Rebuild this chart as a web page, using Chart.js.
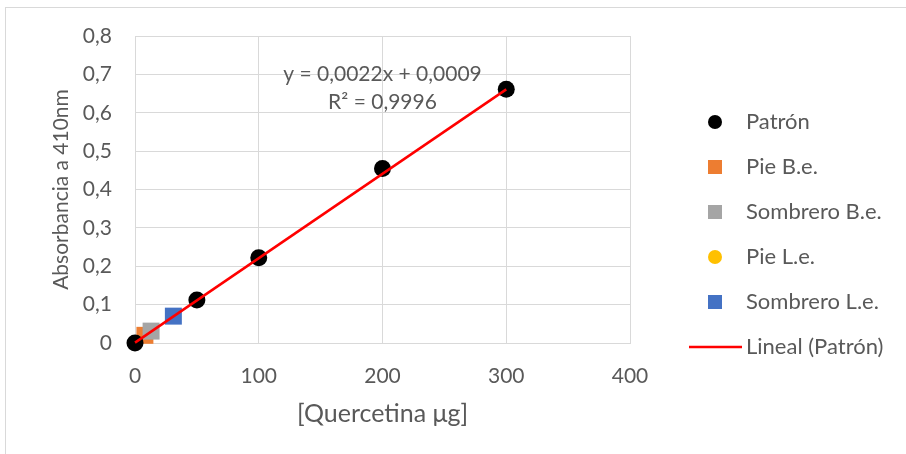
<!DOCTYPE html>
<html>
<head>
<meta charset="utf-8">
<title>Curva de calibración de quercetina</title>
<script src="https://cdn.jsdelivr.net/npm/chart.js@4/dist/chart.umd.min.js"></script>
<style>
  html, body { margin: 0; padding: 0; background: #ffffff; }
  #wrap { position: relative; width: 906px; height: 454px; }
</style>
</head>
<body>
<div id="wrap"><canvas id="c" width="906" height="454"></canvas></div>
<script>
// Patrón de quercetina (µg) y su absorbancia a 410 nm
const patronX = [0, 50, 100, 200, 300];
const patronY = [0, 0.112, 0.222, 0.455, 0.661];

// Muestras
const pieBeX = [8];
const pieBeY = [0.02];
const sombreroBeX = [13];
const sombreroBeY = [0.031];
const pieLeX = [];
const pieLeY = [];
const sombreroLeX = [31];
const sombreroLeY = [0.07];

// Regresión lineal del patrón
const slope = 0.0022;
const intercept = 0.0009;
const trendX = [0, 300];
const equationText = 'y = 0,0022x + 0,0009';
const r2Text = 'R² = 0,9996';

// Marcas de los ejes
const xTicks = [0, 100, 200, 300, 400];
const yTicks = [0, 0.1, 0.2, 0.3, 0.4, 0.5, 0.6, 0.7, 0.8];

const legendLabels = ['Patrón', 'Pie B.e.', 'Sombrero B.e.', 'Pie L.e.', 'Sombrero L.e.', 'Lineal (Patrón)'];

const FONT = "Lato, 'Open Sans', sans-serif";
const TEXT = '#595959';
const GRID = '#d9d9d9';

const toPoints = (xs, ys) => xs.map((x, i) => ({ x: x, y: ys[i] }));
const comma = v => v === 0 ? '0' : v.toFixed(1).replace('.', ',');

// Marco exterior del gráfico
const framePlugin = {
  id: 'frame',
  beforeDraw(chart) {
    const ctx = chart.ctx;
    ctx.save();
    ctx.strokeStyle = GRID;
    ctx.lineWidth = 1;
    ctx.strokeRect(5.5, 7.5, 2000, 2000);
    ctx.restore();
  }
};

// Ecuación de la recta y coeficiente de determinación
const equationPlugin = {
  id: 'equation',
  afterDatasetsDraw(chart) {
    const { ctx, scales } = chart;
    const cx = scales.x.getPixelForValue(200);
    const cy = scales.y.getPixelForValue(0.7);
    ctx.save();
    ctx.font = '21px ' + FONT;
    ctx.fillStyle = TEXT;
    ctx.textAlign = 'center';
    ctx.textBaseline = 'middle';
    ctx.fillText(equationText, cx, cy);
    ctx.fillText(r2Text, cx, cy + 28);
    ctx.restore();
  }
};

// Leyenda a la derecha del área de trazado
const legendPlugin = {
  id: 'sideLegend',
  afterDraw(chart) {
    const ctx = chart.ctx;
    const markerX = 715;
    const textX = 746;
    const top = 122;
    const step = 45;
    ctx.save();
    ctx.font = '22px ' + FONT;
    ctx.textBaseline = 'middle';
    ctx.textAlign = 'left';
    legendLabels.forEach((label, i) => {
      const ds = chart.data.datasets.find(d => d.label === label);
      const y = top + i * step;
      if (ds.showLine) {
        ctx.strokeStyle = ds.borderColor;
        ctx.lineWidth = ds.borderWidth;
        ctx.beginPath();
        ctx.moveTo(689, y);
        ctx.lineTo(742, y);
        ctx.stroke();
      } else if (ds.pointStyle === 'circle') {
        ctx.fillStyle = ds.backgroundColor;
        ctx.beginPath();
        ctx.arc(markerX, y, 7, 0, Math.PI * 2);
        ctx.fill();
      } else {
        ctx.fillStyle = ds.backgroundColor;
        ctx.fillRect(markerX - 7, y - 7, 14, 14);
      }
      ctx.fillStyle = TEXT;
      ctx.fillText(label, textX, y);
    });
    ctx.restore();
  }
};

function build() {
  new Chart(document.getElementById('c'), {
    type: 'scatter',
    data: {
      datasets: [
        {
          label: 'Patrón',
          data: toPoints(patronX, patronY),
          pointStyle: 'circle',
          pointRadius: 8.5,
          backgroundColor: '#000000',
          borderColor: '#000000',
          borderWidth: 0,
          clip: false,
          order: 1
        },
        {
          label: 'Pie B.e.',
          data: toPoints(pieBeX, pieBeY),
          pointStyle: 'rect',
          pointRadius: 12,
          backgroundColor: '#ED7D31',
          borderColor: '#ED7D31',
          borderWidth: 0,
          clip: false,
          order: 5
        },
        {
          label: 'Sombrero B.e.',
          data: toPoints(sombreroBeX, sombreroBeY),
          pointStyle: 'rect',
          pointRadius: 12,
          backgroundColor: '#A5A5A5',
          borderColor: '#A5A5A5',
          borderWidth: 0,
          clip: false,
          order: 4
        },
        {
          label: 'Pie L.e.',
          data: toPoints(pieLeX, pieLeY),
          pointStyle: 'circle',
          pointRadius: 8.5,
          backgroundColor: '#FFC000',
          borderColor: '#FFC000',
          borderWidth: 0,
          clip: false,
          order: 3
        },
        {
          label: 'Sombrero L.e.',
          data: toPoints(sombreroLeX, sombreroLeY),
          pointStyle: 'rect',
          pointRadius: 12,
          backgroundColor: '#4472C4',
          borderColor: '#4472C4',
          borderWidth: 0,
          clip: false,
          order: 2
        },
        {
          label: 'Lineal (Patrón)',
          data: trendX.map(x => ({ x: x, y: slope * x + intercept })),
          showLine: true,
          pointRadius: 0,
          borderColor: '#FF0000',
          backgroundColor: '#FF0000',
          borderWidth: 2.5,
          clip: false,
          order: 0
        }
      ]
    },
    options: {
      responsive: false,
      animation: false,
      devicePixelRatio: 1,
      layout: { padding: { top: 36, right: 276, bottom: 0, left: 0 } },
      plugins: {
        legend: { display: false },
        tooltip: { enabled: false }
      },
      scales: {
        x: {
          type: 'linear',
          min: 0,
          max: 400,
          afterBuildTicks: s => { s.ticks = xTicks.map(v => ({ value: v })); },
          afterFit: s => { s.height = 111; },
          grid: { color: GRID, drawTicks: false },
          border: { color: GRID },
          ticks: { color: TEXT, font: { family: FONT, size: 21 }, padding: 21, callback: v => String(v) },
          title: {
            display: true,
            text: '[Quercetina μg]',
            color: TEXT,
            font: { family: FONT, size: 25 },
            padding: { top: 0, bottom: 25 }
          }
        },
        y: {
          type: 'linear',
          min: 0,
          max: 0.8,
          afterBuildTicks: s => { s.ticks = yTicks.map(v => ({ value: v })); },
          afterFit: s => { s.width = 135; },
          grid: { color: GRID, drawTicks: false },
          border: { color: GRID },
          ticks: { color: TEXT, font: { family: FONT, size: 21 }, padding: 23, callback: v => comma(v) },
          title: {
            display: true,
            text: 'Absorbancia a 410nm',
            color: TEXT,
            font: { family: FONT, size: 21 },
            padding: { top: 49, bottom: 0 }
          }
        }
      }
    },
    plugins: [framePlugin, equationPlugin, legendPlugin]
  });
}

if (document.fonts && document.fonts.load) {
  Promise.all([
    document.fonts.load('21px Lato'),
    document.fonts.load('22px Lato')
  ]).then(build, build);
} else {
  build();
}
</script>
</body>
</html>
